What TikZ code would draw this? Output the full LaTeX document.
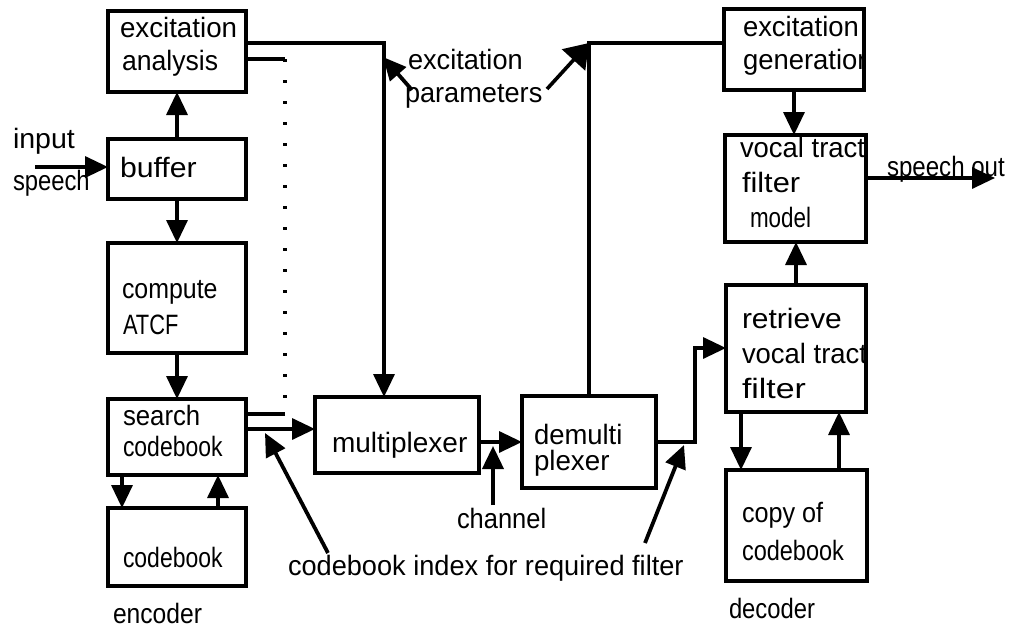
\documentclass[tikz,border=0pt]{standalone}
\usepackage{fontspec}
\setmainfont{Liberation Sans}
\usetikzlibrary{arrows.meta}

\tikzset{
  box/.style={draw, line width=3.4pt, inner sep=0pt, outer sep=0pt, anchor=north west},
  txt/.style={anchor=base west, inner sep=0pt, outer sep=0pt},
  conn/.style={line width=3.4pt},
  arr/.style={conn, -{Triangle[length=23pt,width=21pt]}},
  bigarr/.style={line width=3.6pt, -{Triangle[length=23pt,width=31pt]}},
  ptr/.style={line width=3.8pt, -{Triangle[length=23pt,width=21pt]}},
  dotline/.style={line width=3.4pt, dash pattern=on 3pt off 18pt},
}

\begin{document}
\begin{tikzpicture}[x=1pt, y=-1pt, font=\fontsize{28}{32}\selectfont]
\useasboundingbox (0,0) rectangle (1013,629);

% ---------- encoder blocks ----------
\node[box, minimum width=138pt, minimum height=81pt]  (ea)   at (108,11)  {};
\node[box, minimum width=138pt, minimum height=60pt]  (buf)  at (108,139) {};
\node[box, minimum width=138pt, minimum height=110pt] (atcf) at (108,243) {};
\node[box, minimum width=138pt, minimum height=76pt]  (sc)   at (108,399) {};
\node[box, minimum width=138pt, minimum height=78pt]  (cb)   at (108,508) {};
\node[box, minimum width=164pt, minimum height=76pt]  (mux)  at (315,397) {};

% ---------- channel / decoder blocks ----------
\node[box, minimum width=134pt, minimum height=92pt]  (dmx)  at (522,396) {};
\node[box, minimum width=140pt, minimum height=81pt]  (eg)   at (724,9)   {};
\node[box, minimum width=141pt, minimum height=107pt] (vt)   at (725,135) {};
\node[box, minimum width=140pt, minimum height=127pt] (rv)   at (726,285) {};
\node[box, minimum width=141pt, minimum height=111pt] (cc)   at (726,470) {};

% ---------- block texts ----------
\node[txt, xscale=0.99] (tEa1) at (120,37)  {excitation};
\node[txt, xscale=0.95] (tEa2) at (122,70)  {analysis};
\node[txt, xscale=1.08] (tBuf) at (120,177) {buffer};
\node[txt, xscale=0.89] (tAt1) at (122,298) {compute};
\node[txt, xscale=0.78] (tAt2) at (123,334) {ATCF};
\node[txt, xscale=0.92] (tSc1) at (123,425) {search};
\node[txt, xscale=0.82] (tSc2) at (123,456) {codebook};
\node[txt, xscale=0.82] (tCb)  at (123,567) {codebook};
\node[txt, xscale=1.00] (tMux) at (332,452) {multiplexer};
\node[txt, xscale=0.98] (tDm1) at (534,444) {demulti};
\node[txt, xscale=0.99] (tDm2) at (534,470) {plexer};

\begin{scope}
  \clip (eg.north west) rectangle (eg.south east);
  \node[txt, xscale=0.98] (tEg1) at (743,36) {excitation};
  \node[txt, xscale=0.98] (tEg2) at (743,69) {generation};
\end{scope}
\begin{scope}
  \clip (vt.north west) rectangle (vt.south east);
  \node[txt, xscale=0.98] (tVt1) at (740,157) {vocal tract};
  \node[txt, xscale=1.10] (tVt2) at (742,192) {filter};
  \node[txt, xscale=0.80] (tVt3) at (750,227) {model};
\end{scope}
\begin{scope}
  \clip (rv.north west) rectangle (rv.south east);
  \node[txt, xscale=1.07] (tRv1) at (742,328) {retrieve};
  \node[txt, xscale=0.98] (tRv2) at (742,363) {vocal tract};
  \node[txt, xscale=1.21] (tRv3) at (742,398) {filter};
\end{scope}
\node[txt, xscale=0.90] (tCc1) at (742,522) {copy of};
\node[txt, xscale=0.84] (tCc2) at (742,560) {codebook};

% ---------- free labels ----------
\node[txt, xscale=1.02] (lIn1) at (13,148)  {input};
\node[txt, xscale=0.85] (lIn2) at (13,190)  {speech};
\node[txt, xscale=0.88] (lEnc) at (113,623) {encoder};
\node[txt, xscale=0.85] (lDec) at (729,618) {decoder};
\node[txt, xscale=0.91] (lCh)  at (457,528) {channel};
\node[txt, xscale=0.97] (lIdx) at (288,575) {codebook index for required filter};
\node[txt, xscale=0.97] (lEp1) at (408,69)  {excitation};
\node[txt, xscale=0.97] (lEp2) at (405,102) {parameters};
\node[txt, xscale=0.86] (lOut) at (887,176) {speech out};

% ---------- free ends of connectors ----------
\coordinate (inS)  at (35,167);
\coordinate (d1)   at (285,59);
\coordinate (d2)   at (285,414);
\coordinate (ci1)  at (328,553);
\coordinate (ci1t) at (265,433);
\coordinate (chS)  at (493,505);
\coordinate (chT)  at (493,446);
\coordinate (ci2)  at (645,543);
\coordinate (ci2t) at (684,445);
\coordinate (epL)  at (412,90);
\coordinate (epLt) at (383,57);
\coordinate (epR)  at (547,89);
\coordinate (corner) at (589,43);
\coordinate (jx)   at (695,348);
\coordinate (outE) at (995,178);

% ---------- encoder connectors ----------
\draw[arr] (inS) -- (inS -| buf.west);
\draw[arr] (buf.north) -- (ea.south);
\draw[arr] (buf.south) -- (atcf.north);
\draw[arr] (atcf.south) -- (sc.north);
\draw[arr] ([xshift=14pt]sc.south west) -- ([xshift=14pt]cb.north west);
\draw[arr] ([xshift=-28pt]cb.north east) -- ([xshift=-28pt]sc.south east);

% excitation analysis to multiplexer
\draw[arr] ([yshift=-32pt]ea.north east) -| ([xshift=69pt]mux.north west);

% excitation analysis to search codebook, dotted link
\draw[conn] ([yshift=-48pt]ea.north east) -- (d1);
\draw[dotline] (d1) -- (d2);
\draw[conn] (d2) -- (d2 -| sc.east);

% search codebook to multiplexer
\draw[arr] ([yshift=-30pt]sc.north east) -- ([yshift=-30pt]sc.north east -| mux.west);

% ---------- channel ----------
\draw[arr] ([yshift=-45pt]mux.north east) -- ([yshift=-45pt]mux.north east -| dmx.west);
\draw[ptr] (chS) -- (chT);

% demultiplexer to excitation generation
\draw[conn] ([xshift=67pt]dmx.north west) -- (corner) -- (corner -| eg.west);

% demultiplexer to retrieve vocal tract filter
\draw[arr] ([yshift=-46pt]dmx.north east) -| (jx) -- (jx -| rv.west);

% label pointers
\draw[ptr] (ci1) -- (ci1t);
\draw[ptr] (ci2) -- (ci2t);
\draw[ptr] (epL) -- (epLt);
\draw[bigarr] (epR) -- (corner);

% ---------- decoder connectors ----------
\draw[arr] (eg.south) -- (eg.south |- vt.north);
\draw[arr] (rv.north) -- (rv.north |- vt.south);
\draw[arr] ([yshift=-43pt]vt.north east) -- (outE);
\draw[arr] ([xshift=15pt]rv.south west) -- ([xshift=15pt]rv.south west |- cc.north);
\draw[arr] ([xshift=-28pt]cc.north east) -- ([xshift=-28pt]cc.north east |- rv.south);

\end{tikzpicture}
\end{document}
